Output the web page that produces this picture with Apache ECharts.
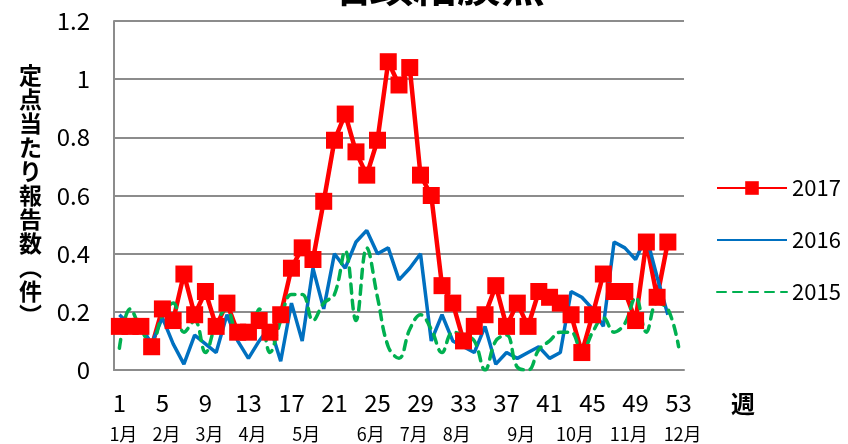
<!DOCTYPE html>
<html>
<head>
<meta charset="utf-8">
<script src="https://cdn.jsdelivr.net/npm/echarts@6/dist/echarts.min.js"></script>
<style>
  html, body { margin: 0; padding: 0; background: #fff; }
  #main { width: 848px; height: 444px; }
</style>
</head>
<body>
<div id="main"></div>
<script type="text/javascript">
  // 週（横軸カテゴリ）
  var weeks = ['1','2','3','4','5','6','7','8','9','10','11','12','13','14','15','16','17','18','19','20',
    '21','22','23','24','25','26','27','28','29','30','31','32','33','34','35','36','37','38','39','40',
    '41','42','43','44','45','46','47','48','49','50','51','52','53'];
  // 月ラベルとその位置（週）
  var monthNames = ['1月','2月','3月','4月','5月','6月','7月','8月','9月','10月','11月','12月'];
  var monthWeeks = [1, 5, 9, 13, 18, 24, 28, 32, 38, 43, 48, 53];

  var data2017 = [0.15, 0.15, 0.15, 0.08, 0.21, 0.17, 0.33, 0.19, 0.27, 0.15, 0.23, 0.13, 0.13, 0.17, 0.13, 0.19,
    0.35, 0.42, 0.38, 0.58, 0.79, 0.88, 0.75, 0.67, 0.79, 1.06, 0.98, 1.04, 0.67, 0.60, 0.29, 0.23,
    0.10, 0.15, 0.19, 0.29, 0.15, 0.23, 0.15, 0.27, 0.25, 0.23, 0.19, 0.06, 0.19, 0.33, 0.27, 0.27,
    0.17, 0.44, 0.25, 0.44];
  var data2016 = [0.19, 0.155, 0.15, 0.09, 0.18, 0.09, 0.02, 0.12, 0.09, 0.06, 0.19, 0.10, 0.04, 0.10, 0.15, 0.03,
    0.23, 0.10, 0.35, 0.21, 0.40, 0.35, 0.44, 0.48, 0.40, 0.42, 0.31, 0.35, 0.40, 0.10, 0.19, 0.10,
    0.08, 0.06, 0.15, 0.02, 0.06, 0.04, 0.06, 0.08, 0.04, 0.06, 0.27, 0.25, 0.21, 0.15, 0.44, 0.42,
    0.38, 0.46, 0.32, 0.19];
  var data2015 = [0.075, 0.21, 0.14, 0.09, 0.19, 0.23, 0.13, 0.17, 0.06, 0.16, 0.21, 0.13, 0.13, 0.21, 0.06, 0.17,
    0.26, 0.26, 0.17, 0.23, 0.26, 0.41, 0.17, 0.42, 0.25, 0.08, 0.04, 0.14, 0.19, 0.14, 0.06, 0.13,
    0.12, 0.10, 0.0, 0.10, 0.12, 0.01, 0.0, 0.07, 0.10, 0.13, 0.13, 0.06, 0.13, 0.18, 0.13, 0.16,
    0.25, 0.13, 0.23, 0.21, 0.08];

  var monthLabels = weeks.map(function (w) {
    var i = monthWeeks.indexOf(Number(w));
    return i >= 0 ? monthNames[i] : '';
  });

  var font = 'Noto Sans CJK JP';
  var gridColor = '#8c8c8c';

  var option = {
    animation: false,
    textStyle: { fontFamily: font, color: '#000' },
    title: {
      text: '咽頭結膜熱',
      left: 325,
      top: -37,
      padding: 0,
      textStyle: { fontFamily: font, fontSize: 44, fontWeight: 'bold', color: '#000' }
    },
    legend: {
      orient: 'vertical',
      left: 716,
      top: 177,
      padding: 0,
      itemWidth: 70,
      itemHeight: 17,
      itemGap: 30,
      textStyle: { fontFamily: font, fontSize: 22, color: '#000' },
      data: [
        { name: '2017' },
        { name: '2016', itemStyle: { opacity: 0 } },
        { name: '2015', itemStyle: { opacity: 0 } }
      ]
    },
    grid: { left: 114, right: 164, top: 21, bottom: 74 },
    xAxis: [
      {
        type: 'category',
        data: weeks,
        boundaryGap: true,
        axisLine: { lineStyle: { color: gridColor, width: 2 } },
        axisTick: { show: false },
        axisLabel: { interval: 3, fontSize: 24, margin: 21, color: '#000', fontFamily: font },
        name: '週',
        nameLocation: 'end',
        nameGap: 47,
        nameTextStyle: { fontFamily: font, fontSize: 24, fontWeight: 'bold', color: '#000',
          verticalAlign: 'top', padding: [22, 0, 0, 0] }
      },
      {
        type: 'category',
        data: monthLabels,
        position: 'bottom',
        boundaryGap: true,
        axisLine: { show: false },
        axisTick: { show: false },
        splitLine: { show: false },
        axisLabel: { interval: 0, fontSize: 18, margin: 55, color: '#000', fontFamily: font,
          padding: [0, 0, 0, 8] }
      }
    ],
    yAxis: {
      type: 'value',
      min: 0,
      max: 1.2,
      interval: 0.2,
      axisLine: { show: true, lineStyle: { color: gridColor, width: 2 } },
      axisTick: { show: false },
      splitLine: { lineStyle: { color: gridColor, width: 2 } },
      axisLabel: { fontSize: 24, margin: 24, color: '#000', fontFamily: font },
      name: '定\n点\n当\nた\nり\n報\n告\n数\n︵\n件\n︶',
      nameLocation: 'middle',
      nameGap: 72,
      nameRotate: 0,
      nameTextStyle: { fontFamily: font, fontSize: 23, fontWeight: 'bold', lineHeight: 24, color: '#000' }
    },
    series: [
      {
        name: '2017',
        type: 'line',
        data: data2017,
        symbol: 'rect',
        symbolSize: 17,
        showAllSymbol: true,
        color: '#ff0000',
        lineStyle: { width: 4.5, color: '#ff0000' },
        itemStyle: { color: '#ff0000' }
      },
      {
        name: '2016',
        type: 'line',
        data: data2016,
        symbol: 'none',
        color: '#0070c0',
        lineStyle: { width: 3.5, color: '#0070c0' }
      },
      {
        name: '2015',
        type: 'line',
        data: data2015,
        symbol: 'none',
        smooth: 0.4,
        color: '#00b050',
        lineStyle: { width: 3.5, color: '#00b050', type: [9, 7], cap: 'round' }
      }
    ]
  };

  var myChart = echarts.init(document.getElementById('main'));
  myChart.setOption(option);
</script>
</body>
</html>
